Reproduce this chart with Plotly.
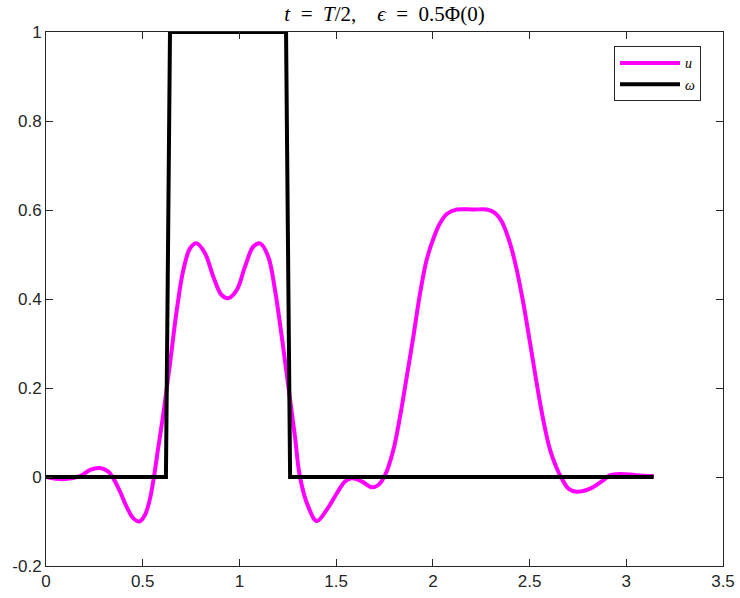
import numpy as np
import plotly.graph_objects as go

MAGENTA = '#FF00FF'; BLACK = '#000000'; AXIS = '#262626'

# u(x)
x_u = [0.0, 0.09, 0.176, 0.228, 0.279, 0.322, 0.348, 0.383, 0.417, 0.452, 0.483, 0.512,
       0.538, 0.558, 0.58, 0.607, 0.641, 0.676, 0.710, 0.745, 0.779, 0.822, 0.865, 0.908,
       0.943, 0.986, 1.029, 1.072, 1.107, 1.149, 1.184, 1.219, 1.253, 1.287, 1.313, 1.356,
       1.400, 1.451, 1.503, 1.546, 1.581, 1.632, 1.684, 1.718, 1.753, 1.796, 1.830, 1.865,
       1.899, 1.934, 1.968, 2.003, 2.037, 2.072, 2.124, 2.209, 2.279, 2.322, 2.356, 2.399,
       2.434, 2.468, 2.503, 2.537, 2.571, 2.606, 2.641, 2.666, 2.701, 2.744, 2.813, 2.882,
       2.916, 2.968, 3.054, 3.1416]
u = [0.0, -0.005, 0.002, 0.016, 0.020, 0.012, -0.003, -0.033, -0.067, -0.093, -0.100, -0.085,
     -0.048, 0.0, 0.065, 0.143, 0.255, 0.375, 0.465, 0.514, 0.525, 0.503, 0.450, 0.409,
     0.402, 0.420, 0.473, 0.518, 0.525, 0.495, 0.420, 0.315, 0.203, 0.091, 0.0, -0.067,
     -0.099, -0.074, -0.037, -0.010, -0.003, -0.010, -0.023, -0.018, 0.004, 0.061, 0.135, 0.225,
     0.315, 0.413, 0.488, 0.536, 0.570, 0.591, 0.601, 0.601, 0.601, 0.593, 0.574, 0.525,
     0.465, 0.390, 0.300, 0.210, 0.128, 0.061, 0.019, -0.003, -0.026, -0.033, -0.026, -0.007,
     0.004, 0.007, 0.004, 0.002]

# omega: indicator on [pi/5, 2pi/5]
x_w = [0.0, 0.620, 0.641, 1.241, 1.262, 3.1416]
w = [0, 0, 1, 1, 0, 0]

x_ticks = [0, 0.5, 1, 1.5, 2, 2.5, 3, 3.5]
x_labels = ['0', '0.5', '1', '1.5', '2', '2.5', '3', '3.5']
y_ticks = [-0.2, 0, 0.2, 0.4, 0.6, 0.8, 1]
y_labels = ['-0.2', '0', '0.2', '0.4', '0.6', '0.8', '1']

fig = go.Figure()
fig.add_trace(go.Scatter(x=x_u, y=u, name='<i>u</i>', mode='lines',
                         line=dict(color=MAGENTA, width=4, shape='spline', smoothing=1.0)))
fig.add_trace(go.Scatter(x=x_w, y=w, name='<i>ω</i>', mode='lines',
                         line=dict(color=BLACK, width=4)))

ax = dict(showgrid=False, zeroline=False, showline=True, linecolor=AXIS, linewidth=1,
          mirror='ticks', ticks='inside', ticklen=7, tickcolor=AXIS, tickwidth=1,
          automargin=False,
          tickfont=dict(family='Liberation Sans', size=17, color=AXIS))
fig.update_layout(
    width=740, height=598,
    plot_bgcolor='white', paper_bgcolor='white',
    margin=dict(l=46, r=17, t=32, b=32),
    title=dict(text='<i>t</i>\u2002=\u2002<i>T</i>/2,\u2003<i>ϵ</i>\u2002=\u20020.5Φ(0)',
               font=dict(family='Liberation Serif', size=21, color='black'),
               xref='paper', x=0.5, xanchor='center',
               yref='container', y=0.977, yanchor='middle'),
    xaxis=dict(range=[0, 3.5], tickvals=x_ticks, ticktext=x_labels, **ax),
    yaxis=dict(range=[-0.2, 1], tickvals=y_ticks, ticktext=y_labels, **ax),
    legend=dict(x=0.839, y=0.973, xanchor='left', yanchor='top',
                bgcolor='white', bordercolor=AXIS, borderwidth=1,
                font=dict(family='Liberation Serif', size=14, color='black'),
                itemwidth=60, tracegroupgap=0),
    showlegend=True,
)
fig.write_html('out.html', config={'displayModeBar': False},
               post_script="document.body.style.margin='0';")
